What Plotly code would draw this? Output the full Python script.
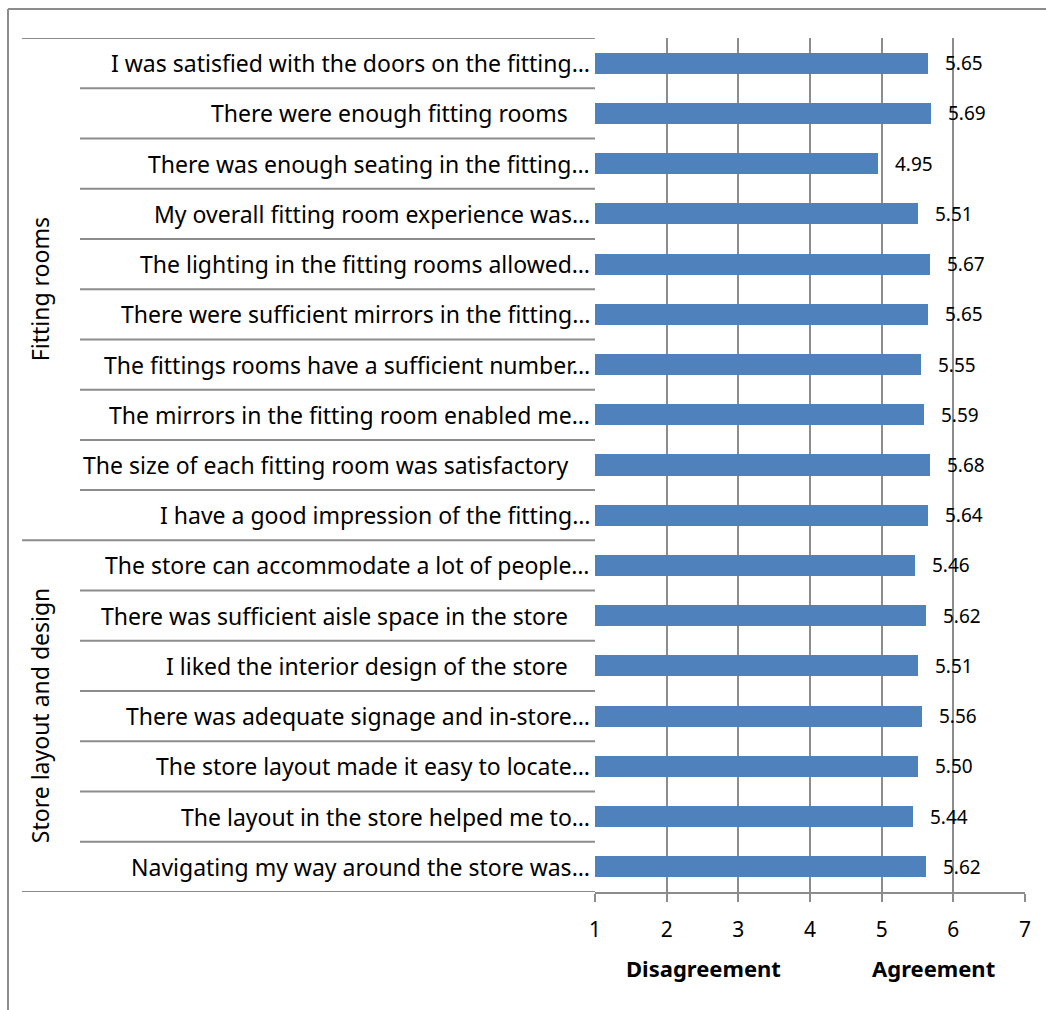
import plotly.graph_objects as go

# Survey items, top to bottom
items = [
    "I was satisfied with the doors on the fitting…",
    "There were enough fitting rooms ",
    "There was enough seating in the fitting…",
    "My overall fitting room experience was…",
    "The lighting in the fitting rooms allowed…",
    "There were sufficient mirrors in the fitting…",
    "The fittings rooms have a sufficient number…",
    "The mirrors in the fitting room enabled me…",
    "The size of each fitting room was satisfactory ",
    "I have a good impression of the fitting…",
    "The store can accommodate a lot of people…",
    "There was sufficient aisle space in the store ",
    "I liked the interior design of the store ",
    "There was adequate signage and in-store…",
    "The store layout made it easy to locate…",
    "The layout in the store helped me to…",
    "Navigating my way around the store was…",
]
scores = [5.65, 5.69, 4.95, 5.51, 5.67, 5.65, 5.55, 5.59, 5.68, 5.64,
          5.46, 5.62, 5.51, 5.56, 5.50, 5.44, 5.62]
groups = ["Fitting rooms", "Store layout and design"]
group_sizes = [10, 7]
tick_vals = [1, 2, 3, 4, 5, 6, 7]
scale_labels = ["Disagreement", "Agreement"]

FONT = "Noto Sans"
GRID = "#8c8c8c"
BAR = "#4F81BD"

# plot-area geometry in pixels
W, H = 1046, 1010
L, R, T, B = 595, 1025, 38, 892
pw, ph = R - L, B - T

def px_x(px):
    return (px - L) / pw

def px_y(py):
    return (B - py) / ph

rows = list(range(len(items)))

fig = go.Figure()
fig.add_trace(go.Bar(
    y=rows, x=[s - 1 for s in scores], base=1, orientation="h",
    width=0.42, marker=dict(color=BAR, line=dict(width=0)),
    hoverinfo="skip",
))

ann = []
shapes = []

# value labels
for r, s in zip(rows, scores):
    ann.append(dict(x=s, y=r, xref="x", yref="y", text=f"{s:.2f}",
                    showarrow=False, xanchor="left", yanchor="middle",
                    xshift=15, font=dict(family=FONT, size=19, color="#000")))

# item labels; a trailing space in the text leaves extra room on the right
for r, t in zip(rows, items):
    right = 570 if t.endswith(" ") else 592
    ann.append(dict(x=px_x(right), y=r, xref="paper", yref="y",
                    text=t.strip(),
                    showarrow=False, xanchor="right", yanchor="middle",
                    font=dict(family=FONT, size=23, color="#000")))

# row separators in the label area
start = 0
group_edges = [0]
for g in group_sizes:
    start += g
    group_edges.append(start)
for k in range(len(items) + 1):
    y = k - 0.5
    x0 = px_x(22) if k in group_edges else px_x(80)
    shapes.append(dict(type="line", xref="paper", yref="y", x0=x0, x1=0,
                       y0=y, y1=y, line=dict(color=GRID, width=2)))

# group labels (rotated)
for i, g in enumerate(groups):
    yc = (group_edges[i] + group_edges[i + 1] - 1) / 2
    ann.append(dict(x=px_x(40), y=yc, xref="paper", yref="y", text=g,
                    showarrow=False, textangle=-90, xanchor="center",
                    yanchor="middle",
                    font=dict(family=FONT, size=23, color="#000")))

# scale end labels
for label, cx in zip(scale_labels, [703, 933]):
    ann.append(dict(x=px_x(cx), y=px_y(968), xref="paper", yref="paper",
                    text="<b>" + label + "</b>", showarrow=False,
                    xanchor="center", yanchor="middle",
                    font=dict(family=FONT, size=22, color="#000")))

# outer frame (left and top edges)
shapes.append(dict(type="line", xref="paper", yref="paper",
                   x0=px_x(8), x1=px_x(8), y0=px_y(9), y1=px_y(1012),
                   line=dict(color=GRID, width=2)))
shapes.append(dict(type="line", xref="paper", yref="paper",
                   x0=px_x(8), x1=px_x(1048), y0=px_y(9), y1=px_y(9),
                   line=dict(color=GRID, width=2)))

fig.update_layout(
    width=W, height=H,
    margin=dict(l=L, r=W - R, t=T, b=H - B, pad=0),
    paper_bgcolor="white", plot_bgcolor="white",
    showlegend=False, bargap=0,
    annotations=ann, shapes=shapes,
    font=dict(family=FONT, color="#000"),
)
fig.update_xaxes(
    range=[1, 7], tickvals=tick_vals, showgrid=True, gridcolor=GRID,
    gridwidth=2, showline=True, linecolor=GRID, linewidth=2,
    ticks="outside", ticklen=8, tickwidth=2, tickcolor=GRID,
    tickfont=dict(family=FONT, size=21, color="#000"),
    ticklabelstandoff=10, zeroline=False, fixedrange=True,
)
fig.update_yaxes(
    range=[len(items) - 0.5, -0.5], showticklabels=False, showgrid=False,
    zeroline=False, showline=False, fixedrange=True,
)

fig.write_html("out.html")
